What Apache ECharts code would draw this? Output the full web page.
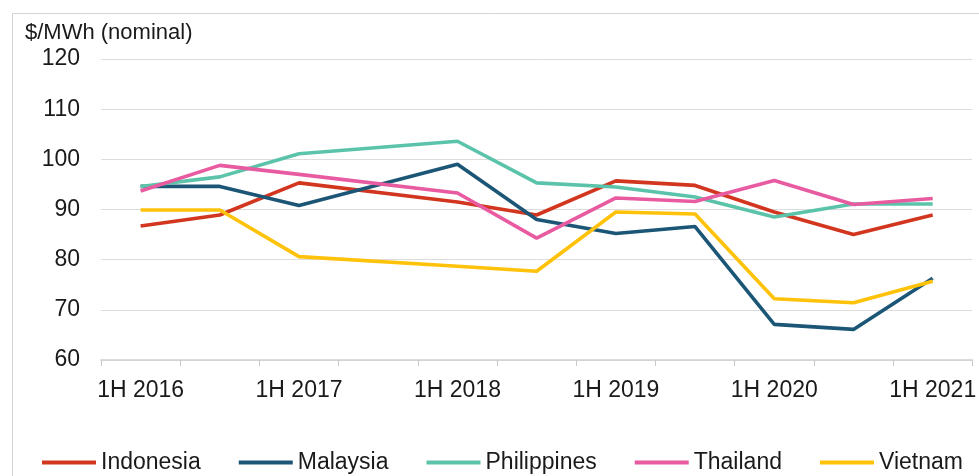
<!DOCTYPE html>
<html>
<head>
<meta charset="utf-8">
<title>Wholesale prices</title>
<script src="https://cdn.jsdelivr.net/npm/echarts@6/dist/echarts.min.js"></script>
<style>
  html, body { margin: 0; padding: 0; background: #fff; }
  #chart { width: 979px; height: 476px; }
</style>
</head>
<body>
<div id="chart"></div>
<script>
// half-year periods, 2H 2017 has no reading (line is drawn straight across)
var categories = [
  "1H 2016", "2H 2016", "1H 2017", "2H 2017", "1H 2018", "2H 2018",
  "1H 2019", "2H 2019", "1H 2020", "2H 2020", "1H 2021",
];
var indonesia = [86.7, 88.9, 95.3, null, 91.5, 88.9, 95.7, 94.8, 89.5, 85.0, 88.9];
var malaysia = [94.6, 94.6, 90.8, null, 99.0, 88.0, 85.2, 86.6, 67.1, 66.1, 76.3];
var philippines = [94.6, 96.5, 101.1, null, 103.6, 95.3, 94.5, 92.5, 88.5, 91.1, 91.1];
var thailand = [93.7, 98.8, 97.0, null, 93.3, 84.3, 92.3, 91.6, 95.8, 91.0, 92.2];
var vietnam = [89.9, 89.9, 80.6, null, 78.7, 77.7, 89.5, 89.1, 72.2, 71.4, 75.7];

var font = "Liberation Sans, Arial, Helvetica, sans-serif";

var chart = echarts.init(document.getElementById("chart"));

function line(name, data, color) {
  return {
    name: name,
    type: "line",
    data: data,
    connectNulls: true,
    symbol: "none",
    color: color,
    lineStyle: {
      color: color,
      width: 3.6,
    },
    animation: false,
  };
}

chart.setOption({
  backgroundColor: "#fff",
  textStyle: {
    fontFamily: font,
  },
  graphic: [
    {
      // frame of the original figure
      type: "polyline",
      shape: {
        points: [[12.5, 476], [12.5, 13.5], [979, 13.5]],
      },
      style: {
        fill: null,
        stroke: "#d4d4d4",
        lineWidth: 1,
      },
    },
    {
      type: "text",
      left: 25,
      top: 22,
      style: {
        text: "$/MWh (nominal)",
        font: "22px " + font,
        fill: "#1a1a1a",
      },
    },
  ],
  grid: {
    left: 101,
    right: 3,
    top: 59,
    bottom: 116,
  },
  legend: {
    bottom: -3,
    left: 37,
    icon: "rect",
    itemWidth: 54,
    itemHeight: 4,
    itemGap: 38,
    textStyle: {
      fontSize: 23,
      color: "#1a1a1a",
      fontFamily: font,
      padding: [0, 0, 0, 0],
    },
    data: ["Indonesia", "Malaysia", "Philippines", "Thailand", "Vietnam"],
  },
  xAxis: {
    type: "category",
    data: categories,
    boundaryGap: true,
    axisLine: {
      lineStyle: {
        color: "#d0d0d0",
        width: 1.5,
      },
    },
    axisTick: {
      show: true,
      interval: 0,
      length: 6,
      lineStyle: {
        color: "#c8c8c8",
      },
    },
    axisLabel: {
      interval: 1,
      margin: 19,
      fontSize: 23,
      color: "#1a1a1a",
      fontFamily: font,
    },
  },
  yAxis: {
    type: "value",
    min: 60,
    max: 120,
    interval: 10,
    axisLine: { show: false },
    axisTick: { show: false },
    axisLabel: {
      margin: 21,
      fontSize: 23,
      color: "#1a1a1a",
      fontFamily: font,
    },
    splitLine: {
      lineStyle: {
        color: "#dcdcdc",
        width: 1,
      },
    },
  },
  series: [
    line("Indonesia", indonesia, "#d2361f"),
    line("Malaysia", malaysia, "#1c5676"),
    line("Philippines", philippines, "#5cc3ab"),
    line("Thailand", thailand, "#e85ba1"),
    line("Vietnam", vietnam, "#ffc20a"),
  ],
});
</script>
</body>
</html>
